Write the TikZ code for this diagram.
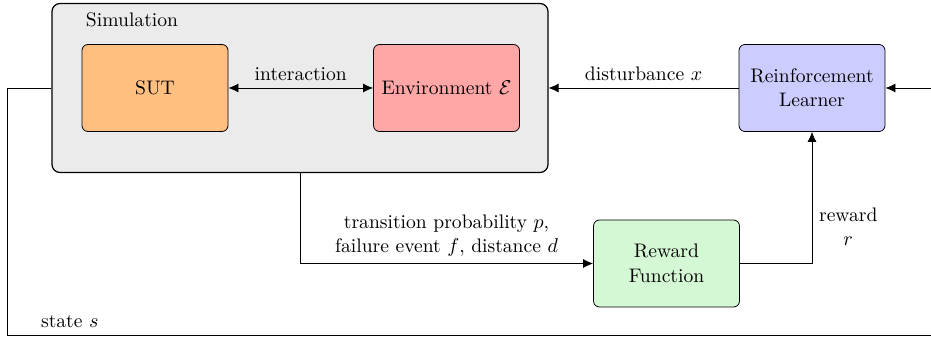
\documentclass[tikz,border=0pt]{standalone}
\usetikzlibrary{arrows.meta}

\definecolor{simgray}{HTML}{EBEBEB}
\definecolor{sutorange}{HTML}{FFBF80}
\definecolor{envred}{HTML}{FFA6A6}
\definecolor{rlblue}{HTML}{CCCCFF}
\definecolor{rewgreen}{HTML}{D4F7D4}

\tikzset{
    block/.style={draw, rounded corners=3pt, minimum width=73pt, minimum height=43.5pt, align=center, inner sep=2pt},
}

\begin{document}
\begin{tikzpicture}[x=0.5pt, y=-0.5pt, >={Latex[length=5pt,width=4.5pt]},
        font=\fontsize{9.8}{12.2}\selectfont]
    \useasboundingbox (0,0) rectangle (931,341);
    % simulation frame
    \node [draw, fill=simgray, rounded corners=4pt, line width=0.6pt,
        minimum width=248pt, minimum height=84.5pt] (sim) at (300,88) {};
    \node (simlabel) at (132,20) {Simulation};
    \node [block, fill=sutorange] (sut) at (155,88) {SUT};
    \node [block, fill=envred] (env) at (446.5,88) {Environment $\mathcal{E}$};
    \node [block, fill=rlblue] (rl) at (812,88) {Reinforcement\\Learner};
    \node [block, fill=rewgreen] (rf) at (666.5,263.5) {Reward\\Function};
    \coordinate (rlin) at (931,88);
    \coordinate (sl) at (7,335);
    \coordinate (sr) at (931,335);

    \draw [<->] (sut) -- node [above] {interaction} (env);
    \draw [->] (rl) -- node [above] {disturbance $x$} (sim.east);
    \draw [->] (rlin) -- (rl);
    \draw [->] (sim.south) |- node [pos=0.75, above, align=center]
        {transition probability $p$,\\failure event $f$, distance $d$} (rf.west);
    \draw [->] (rf.east) -| node [pos=0.64, right, align=center] {reward\\$r$} (rl.south);
    \draw (sim.west) -| (sl) -- (sr);
    \node [anchor=south west] (statelabel) at (34,335) {state $s$};
\end{tikzpicture}
\end{document}
